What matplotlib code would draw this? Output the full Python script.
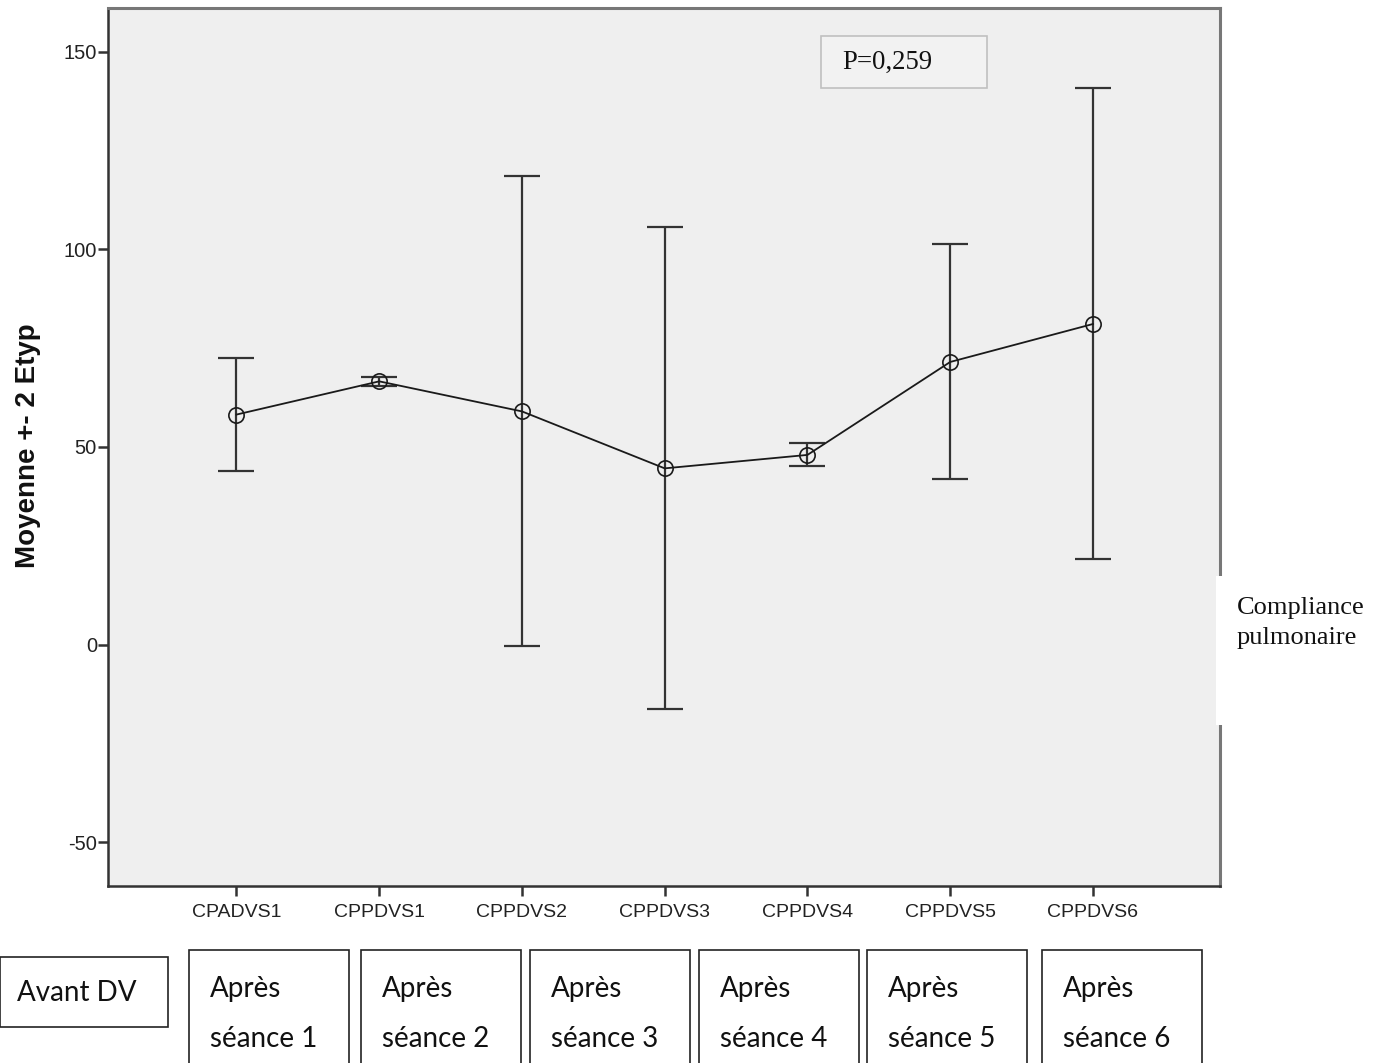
import matplotlib
matplotlib.use("Agg")
import matplotlib.pyplot as plt
from matplotlib.patches import Rectangle

categories = ["CPADVS1", "CPPDVS1", "CPPDVS2", "CPPDVS3", "CPPDVS4", "CPPDVS5", "CPPDVS6"]
means = [58.2, 66.6, 59.0, 44.6, 48.0, 71.5, 81.1]
upper = [72.4, 67.8, 118.6, 105.6, 51.0, 101.4, 140.7]
lower = [43.9, 65.4, -0.3, -16.2, 45.2, 41.8, 21.6]
yticks = [-50, 0, 50, 100, 150]
box_labels = ["Avant DV", "Après\nséance 1", "Après\nséance 2", "Après\nséance 3",
              "Après\nséance 4", "Après\nséance 5", "Après\nséance 6"]
p_text = "P=0,259"
side_text = "Compliance\npulmonaire"
ylabel = "Moyenne +- 2 Etyp"

W, H = 1381, 1063
fig = plt.figure(figsize=(W / 100, H / 100), dpi=100)
fig.patch.set_facecolor("white")

ax = fig.add_axes([108 / W, 1 - 886 / H, (1220 - 108) / W, (886 - 8) / H])
ax.set_facecolor("#efefef")

x = list(range(len(categories)))
yerr = [[m - l for m, l in zip(means, lower)], [u - m for m, u in zip(means, upper)]]
ax.errorbar(x, means, yerr=yerr, fmt="none", ecolor="#333333", elinewidth=1.6,
            capsize=13, capthick=1.6, zorder=2)
ax.plot(x, means, color="#1a1a1a", lw=1.3, zorder=3)
ax.plot(x, means, "o", mfc="none", mec="#1a1a1a", ms=11, mew=1.2, zorder=4)

ax.set_xlim(-0.9, 6.89)
ax.set_ylim(-61, 161)
ax.set_xticks(x)
ax.set_xticklabels(categories, family="Liberation Sans", fontsize=14, color="#222222")
ax.set_yticks(yticks)
ax.set_yticklabels([str(v) for v in yticks], family="Liberation Sans", fontsize=14.5, color="#222222")
ax.tick_params(axis="both", direction="out", length=7, width=1.8, color="#333333")
ax.tick_params(axis="x", pad=6)
ax.tick_params(axis="y", pad=1)

for s in ["left", "bottom"]:
    ax.spines[s].set_color("#333333")
    ax.spines[s].set_linewidth(1.8)
for s in ["top", "right"]:
    ax.spines[s].set_color("#777777")
    ax.spines[s].set_linewidth(2.2)

fig.text(28 / W, 1 - 446 / H, ylabel, rotation=90, ha="center", va="center",
         family="Liberation Sans", fontweight="bold", fontsize=20, color="#111111")

# P value box
fig.patches.append(Rectangle((821 / W, 1 - 88 / H), (987 - 821) / W, (88 - 36) / H,
                             transform=fig.transFigure, facecolor="#f2f2f2",
                             edgecolor="#c0c0c0", lw=1.2, zorder=5))
fig.text(842 / W, 1 - 62 / H, p_text, ha="left", va="center", family="Liberation Serif",
         fontsize=19.3, color="#111111", zorder=6)

# White box covering right spine with side text
fig.patches.append(Rectangle((1216 / W, 1 - 725 / H), (W - 1216) / W, (725 - 576) / H,
                             transform=fig.transFigure, facecolor="white",
                             edgecolor="none", zorder=5))
fig.text(1237 / W, 1 - 623 / H, side_text, ha="left", va="center", family="Liberation Serif",
         fontsize=19, color="#111111", linespacing=1.45, zorder=6)

# Bottom label boxes
boxes = [(0, 957, 168, 1027), (189, 950, 349, 1070), (361, 950, 521, 1070),
         (530, 950, 690, 1070), (699, 950, 859, 1070), (867, 950, 1027, 1070),
         (1042, 950, 1202, 1070)]
for i, (lbl, (x0, y0, x1, y1)) in enumerate(zip(box_labels, boxes)):
    fig.patches.append(Rectangle((x0 / W, 1 - y1 / H), (x1 - x0) / W, (y1 - y0) / H,
                                 transform=fig.transFigure, facecolor="white",
                                 edgecolor="#222222", lw=1.2, zorder=5, clip_on=False))
    if i == 0:
        fig.text(17 / W, 1 - 993 / H, lbl, ha="left", va="center", family="Lato",
                 fontsize=20, color="#111111", zorder=6)
    else:
        fig.text((x0 + 21) / W, 1 - 1014 / H, lbl, ha="left", va="center", family="Lato",
                 fontsize=20, color="#111111", linespacing=2.15, zorder=6)

fig.savefig("out.png", dpi=100)
